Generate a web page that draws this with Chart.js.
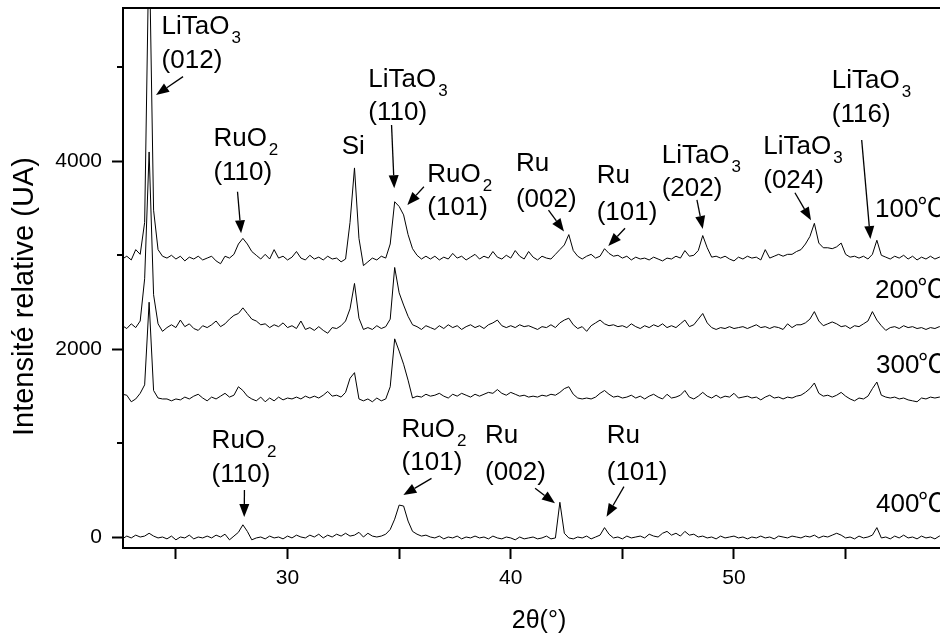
<!DOCTYPE html>
<html>
<head>
<meta charset="utf-8">
<title>DRX LiTaO3 / RuO2</title>
<script src="https://cdn.jsdelivr.net/npm/chart.js@4.4.0/dist/chart.umd.min.js"></script>
<style>
  html, body { margin: 0; padding: 0; background: #fff; overflow: hidden; }
  #wrap { position: relative; width: 960px; height: 637px; }
</style>
</head>
<body>
<div id="wrap"><canvas id="xrd"></canvas></div>
<script>
// scan: 2theta from 22.6 deg, step 0.2 deg (one row = 2 deg)
const thetaStart = 22.6;
const thetaStep = 0.2;

const counts100 = [
  2960, 2990, 2950, 3060, 3010, 3350, 6400, 3480, 3060, 2990,
  2970, 3000, 2960, 2990, 2940, 2980, 2960, 2990, 2950, 2970,
  2990, 2940, 2910, 2990, 2970, 3010, 3120, 3180, 3120, 3040,
  3000, 2960, 3010, 2960, 3060, 2970, 2990, 2950, 2980, 3040,
  2970, 2950, 3000, 2960, 2980, 2950, 2990, 2960, 2970, 2930,
  2960, 3350, 3930, 3180, 2890, 2930, 2970, 2950, 2990, 2970,
  3120, 3570, 3520, 3430, 3220, 3070, 3000, 2960, 2990, 2960,
  2990, 2950, 2980, 2960, 3020, 2970, 2990, 2950, 2980, 3010,
  2960, 2990, 2970, 3040, 2980, 2960, 3000, 2970, 3050, 2990,
  2960, 3040, 2980, 2950, 2990, 2970, 2960, 3010, 3060, 3110,
  3220, 3050, 2990, 2960, 2990, 3010, 2970, 2990, 3070, 3020,
  2990, 3000, 2970, 2990, 2950, 2980, 2960, 2970, 2950, 2980,
  2960, 2940, 2970, 2960, 2990, 2970, 3050, 2990, 3000, 3050,
  3210, 3080, 2980, 2990, 2970, 2990, 2960, 2940, 2980, 2960,
  2990, 2970, 2980, 2950, 3060, 2970, 2990, 3010, 2990, 3010,
  3010, 3040, 3060, 3120, 3200, 3340, 3130, 3080, 3080, 3070,
  3090, 3130, 3010, 2980, 2990, 2970, 2990, 2960, 3010, 3160,
  3000, 2980, 2960, 2990, 2970, 3000, 2960, 2990, 2950, 2980,
  2960, 2990, 2960, 2980, 2990, 2970, 2980
];

const counts200 = [
  2250, 2220, 2270, 2230, 2300, 2750, 4100, 2580, 2270, 2190,
  2230, 2260, 2230, 2310, 2240, 2270, 2220, 2200, 2250, 2230,
  2260, 2300, 2240, 2270, 2320, 2360, 2380, 2440, 2380, 2320,
  2300, 2260, 2270, 2230, 2260, 2240, 2280, 2230, 2250, 2220,
  2300, 2210, 2230, 2200, 2240, 2200, 2170, 2230, 2220, 2250,
  2300, 2430, 2700, 2330, 2210, 2230, 2210, 2250, 2220, 2240,
  2320, 2870, 2600, 2470, 2350, 2260, 2240, 2210, 2250, 2230,
  2210, 2250, 2220, 2260, 2230, 2250, 2210, 2240, 2260, 2230,
  2250, 2220, 2260, 2280, 2310, 2250, 2230, 2250, 2230, 2260,
  2240, 2250, 2230, 2210, 2240, 2230, 2260, 2230, 2280, 2310,
  2330, 2260, 2220, 2240, 2190, 2250, 2280, 2310, 2270, 2250,
  2260, 2240, 2250, 2230, 2270, 2240, 2220, 2250, 2230, 2260,
  2240, 2270, 2230, 2250, 2230, 2270, 2310, 2240, 2260, 2320,
  2380, 2280, 2230, 2210, 2230, 2220, 2240, 2220, 2230, 2240,
  2220, 2240, 2260, 2230, 2240, 2220, 2240, 2230, 2210, 2270,
  2230, 2260, 2260, 2280, 2320, 2400, 2300, 2250, 2270, 2290,
  2270, 2240, 2250, 2220, 2250, 2240, 2270, 2300, 2400, 2310,
  2250, 2200, 2230, 2240, 2220, 2250, 2230, 2240, 2220, 2230,
  2210, 2230, 2220, 2240, 2220, 2230, 2220
];

const counts300 = [
  1520, 1510, 1440, 1470, 1530, 1620, 2500, 1560, 1480, 1470,
  1470, 1450, 1470, 1460, 1490, 1470, 1500, 1520, 1480, 1450,
  1490, 1470, 1500, 1530, 1490, 1510, 1600, 1560, 1500, 1470,
  1450, 1490, 1440, 1480, 1450, 1490, 1460, 1480, 1470, 1490,
  1470, 1500, 1480, 1500, 1480, 1510, 1550, 1500, 1510, 1490,
  1540, 1690, 1750, 1470, 1450, 1470, 1440, 1480, 1450, 1470,
  1600, 2110, 1980, 1840, 1670, 1480, 1500, 1490, 1520, 1500,
  1510, 1530, 1500, 1480, 1520, 1500, 1530, 1510, 1490, 1520,
  1500, 1520, 1540, 1530, 1570, 1530, 1510, 1540, 1520, 1500,
  1510, 1490, 1500, 1490, 1510, 1500, 1520, 1510, 1540, 1580,
  1600, 1520, 1480, 1470, 1480, 1470, 1490, 1530, 1560, 1520,
  1490, 1500, 1480, 1490, 1510, 1480, 1500, 1470, 1500, 1520,
  1490, 1470, 1520, 1480, 1490, 1510, 1560, 1490, 1470, 1500,
  1540, 1500, 1480, 1510, 1480, 1500, 1490, 1530, 1480, 1490,
  1500, 1480, 1490, 1460, 1490, 1510, 1480, 1490, 1470, 1490,
  1480, 1500, 1510, 1540, 1580, 1640, 1530, 1500, 1510, 1490,
  1510, 1540, 1500, 1470, 1450, 1480, 1470, 1500, 1580, 1650,
  1510, 1490, 1480, 1490, 1470, 1480, 1460, 1450, 1440, 1480,
  1470, 1490, 1480, 1490, 1480, 1490, 1480
];

const counts400 = [
  -20, 10, -10, 20, 0, 10, 40, 10, -10, 0,
  -20, 10, -30, 0, -10, 20, -20, 0, -10, 10,
  -10, 20, 0, 30, -30, 10, 50, 130, 60, -30,
  -10, 0, -20, 10, -10, 0, -20, 10, -10, 20,
  0, -10, 20, 0, 30, -10, 20, 0, 30, 10,
  40, 10, 20, 50, 0, 40, 10, 0, 10, 30,
  80, 190, 340, 330, 170, 60, 30, 10, 20, 0,
  -10, 10, -20, 0, -10, 10, -20, 0, -10, 10,
  -10, 0, -20, 10, -10, -20, 0, -10, -30, 0,
  -20, -10, 0, -20, -10, 10, -20, -10, 370, 40,
  -10, -20, 0, -10, 10, -20, 0, 20, 100, 30,
  -10, 0, -20, 10, -10, 0, 10, -10, 30, 10,
  0, 40, 60, 20, 40, 10, 60, 20, 30, 0,
  10, -10, 0, -20, 10, -10, 0, 10, -10, 0,
  -20, 0, -10, 10, -10, 0, -20, 10, 0, -10,
  10, 0, -10, 10, 0, 20, -10, 10, 0, 20,
  40, 20, -10, 0, -20, 10, -10, 0, 20, 100,
  -10, 0, -20, 10, -10, 20, -10, 0, -20, 10,
  -10, 0, -20, 10, 0, -10, 0
];

const tempValues = ['100', '200', '300', '400'];
const tempUnit = '℃';
const xTickValues = [25, 30, 35, 40, 45, 50, 55];
const yTickValues = [0, 2000, 4000];
const yMinorTicks = [1000, 3000, 5000];

const twoTheta = counts100.map((_, i) => +(thetaStart + i * thetaStep).toFixed(1));

// peak labels, anchored in data units (2theta, counts at text baseline)
const peakTexts = [
  {text: 'LiTaO', sub: '3', x: 24.36, y: 5353}, {text: '(012)', x: 24.36, y: 4991},
  {text: 'RuO', sub: '2', x: 26.68, y: 4163},   {text: '(110)', x: 26.68, y: 3801},
  {text: 'Si', x: 32.43, y: 4078},
  {text: 'LiTaO', sub: '3', x: 33.62, y: 4789}, {text: '(110)', x: 33.62, y: 4440},
  {text: 'RuO', sub: '2', x: 36.26, y: 3783},   {text: '(101)', x: 36.26, y: 3429},
  {text: 'Ru', x: 40.23, y: 3901},              {text: '(002)', x: 40.23, y: 3514},
  {text: 'Ru', x: 43.85, y: 3766},              {text: '(101)', x: 43.85, y: 3376},
  {text: 'LiTaO', sub: '3', x: 46.76, y: 3979}, {text: '(202)', x: 46.76, y: 3631},
  {text: 'LiTaO', sub: '3', x: 51.31, y: 4078}, {text: '(024)', x: 51.31, y: 3716},
  {text: 'LiTaO', sub: '3', x: 54.38, y: 4778}, {text: '(116)', x: 54.38, y: 4419},
  {text: 'RuO', sub: '2', x: 26.60, y: 945},    {text: '(110)', x: 26.60, y: 589},
  {text: 'RuO', sub: '2', x: 35.11, y: 1062},   {text: '(101)', x: 35.11, y: 714},
  {text: 'Ru', x: 38.85, y: 1005},              {text: '(002)', x: 38.85, y: 607},
  {text: 'Ru', x: 44.30, y: 1005},              {text: '(101)', x: 44.30, y: 607}
];

const curveTags = [
  {x: 56.32, y: 3411}, {x: 56.32, y: 2542}, {x: 56.36, y: 1743}, {x: 56.36, y: 270}
];

// arrows: tail -> head, data units
const arrows = [
  [25.32, 4902, 24.11, 4707],
  [27.76, 3677, 27.92, 3234],
  [34.66, 4387, 34.78, 3713],
  [36.11, 3730, 35.365, 3535],
  [41.69, 3482, 42.385, 3253],
  [45.12, 3287, 44.37, 3099],
  [48.34, 3589, 48.60, 3280],
  [52.73, 3666, 53.45, 3372],
  [55.72, 4227, 56.11, 3173],
  [28.07, 501, 28.06, 213],
  [36.45, 625, 35.19, 447],
  [41.09, 519, 41.98, 359],
  [45.07, 536, 44.29, 216]
];

const family = '"Liberation Sans", Arial, "Noto Sans CJK SC", sans-serif';
const cjkFamily = '"Noto Sans CJK SC", "Noto Sans CJK JP", sans-serif';
Chart.defaults.font.family = family;
Chart.defaults.color = '#000';

function drawArrow(ctx, x0, y0, x1, y1) {
  const a = Math.atan2(y1 - y0, x1 - x0);
  const len = 13, half = 5;
  const bx = x1 - len * Math.cos(a), by = y1 - len * Math.sin(a);
  ctx.beginPath();
  ctx.moveTo(x0, y0);
  ctx.lineTo(bx, by);
  ctx.stroke();
  ctx.beginPath();
  ctx.moveTo(x1, y1);
  ctx.lineTo(bx + half * Math.sin(a), by - half * Math.cos(a));
  ctx.lineTo(bx - half * Math.sin(a), by + half * Math.cos(a));
  ctx.closePath();
  ctx.fill();
}

const annotate = {
  id: 'annotate',
  afterDatasetsDraw(chart) {
    const {ctx, chartArea, scales: {x, y}} = chart;
    ctx.save();
    ctx.fillStyle = '#000';
    ctx.strokeStyle = '#000';

    // short minor ticks on y
    ctx.lineWidth = 2;
    yMinorTicks.forEach(v => {
      const py = Math.round(y.getPixelForValue(v));
      ctx.beginPath();
      ctx.moveTo(chartArea.left - 6, py);
      ctx.lineTo(chartArea.left, py);
      ctx.stroke();
    });

    ctx.textAlign = 'left';
    ctx.textBaseline = 'alphabetic';
    peakTexts.forEach(t => {
      const px = x.getPixelForValue(t.x), py = y.getPixelForValue(t.y);
      ctx.font = '26px ' + family;
      ctx.fillText(t.text, px, py);
      if (t.sub) {
        const w = ctx.measureText(t.text).width;
        ctx.font = '17px ' + family;
        ctx.fillText(t.sub, px + w + 2, py + 9);
      }
    });

    curveTags.forEach((p, k) => {
      const px = x.getPixelForValue(p.x), py = y.getPixelForValue(p.y);
      ctx.font = '26px ' + family;
      ctx.fillText(tempValues[k], px, py);
      const w = ctx.measureText(tempValues[k]).width;
      ctx.font = '26px ' + cjkFamily;
      ctx.fillText(tempUnit, px + w - 1, py);
    });

    ctx.lineWidth = 1.3;
    arrows.forEach(a => {
      drawArrow(ctx, x.getPixelForValue(a[0]), y.getPixelForValue(a[1]),
                x.getPixelForValue(a[2]), y.getPixelForValue(a[3]));
    });

    // y axis title
    ctx.translate(chartArea.left - 90, y.getPixelForValue(2560));
    ctx.rotate(-Math.PI / 2);
    ctx.textAlign = 'center';
    ctx.font = '29px ' + family;
    ctx.fillText('Intensité relative (UA)', 0, 0);
    ctx.restore();
  }
};

const datasets = [counts100, counts200, counts300, counts400].map((vals, k) => ({
  label: tempValues[k] + tempUnit,
  data: vals.map((v, i) => ({x: twoTheta[i], y: v})),
  borderColor: '#000',
  borderWidth: 1,
  borderJoinStyle: 'round',
  pointRadius: 0,
  fill: false,
  tension: 0
}));

new Chart(document.getElementById('xrd'), {
  type: 'line',
  data: {datasets: datasets},
  plugins: [annotate],
  options: {
    responsive: true,
    maintainAspectRatio: false,
    animation: false,
    devicePixelRatio: 1,
    layout: {padding: {left: 0, right: 5, top: 0, bottom: 0}},
    plugins: {legend: {display: false}, tooltip: {enabled: false}},
    scales: {
      x: {
        type: 'linear',
        position: 'bottom',
        min: 22.63,
        max: 59.9,
        afterBuildTicks: axis => { axis.ticks = xTickValues.map(v => ({value: v})); },
        afterFit: axis => { axis.height = 89; axis.paddingLeft = 0; axis.paddingRight = 0; },
        ticks: {
          autoSkip: false,
          maxRotation: 0,
          padding: 7,
          font: {size: 21},
          color: '#000',
          callback: v => (v % 10 === 0 ? String(v) : '')
        },
        grid: {drawOnChartArea: false, drawTicks: true, tickLength: 11, tickWidth: 2, tickColor: '#000'},
        border: {display: true, width: 2, color: '#000'},
        title: {display: true, text: '2θ(°)', font: {size: 25}, color: '#000', padding: {top: 0, bottom: 1}}
      },
      x2: {
        type: 'linear',
        position: 'top',
        min: 22.63,
        max: 59.9,
        afterFit: axis => { axis.height = 8; axis.paddingLeft = 0; axis.paddingRight = 0; },
        ticks: {display: false},
        grid: {display: false},
        border: {display: true, width: 2, color: '#000'}
      },
      y: {
        type: 'linear',
        min: -117,
        max: 5633,
        afterBuildTicks: axis => { axis.ticks = yTickValues.map(v => ({value: v})); },
        afterFit: axis => { axis.width = 123; axis.paddingTop = 0; axis.paddingBottom = 0; },
        ticks: {padding: 10, font: {size: 21}, color: '#000', callback: v => String(v)},
        grid: {drawOnChartArea: false, drawTicks: true, tickLength: 11, tickWidth: 2, tickColor: '#000'},
        border: {display: true, width: 2, color: '#000'}
      }
    }
  }
});
</script>
</body>
</html>
